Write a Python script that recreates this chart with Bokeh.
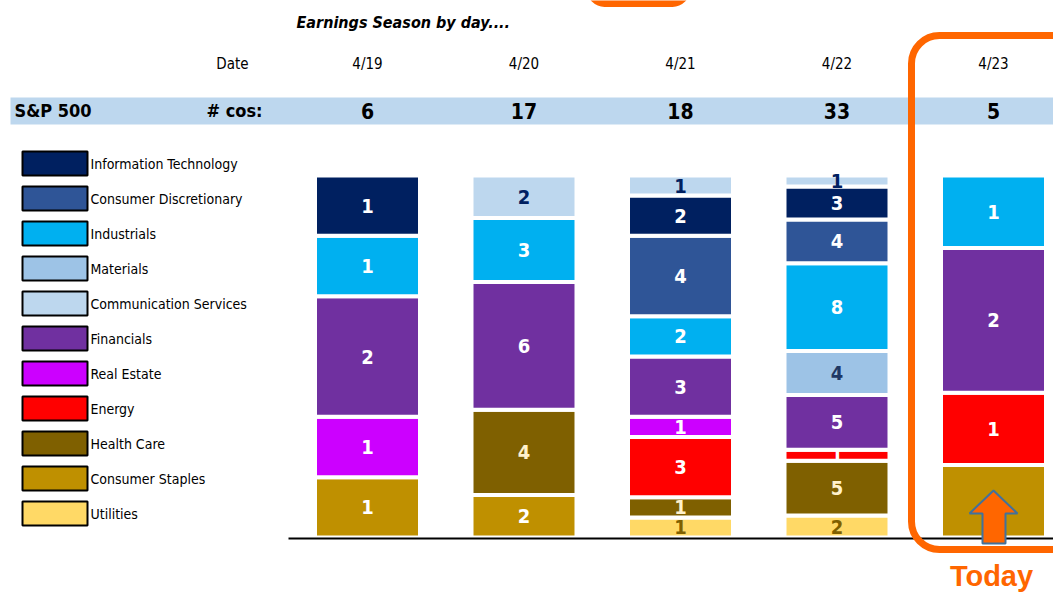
from bokeh.plotting import figure
from bokeh.models import Range1d, Label, ColumnDataSource, BoxAnnotation, PolyAnnotation
from bokeh.embed import file_html
from bokeh.resources import INLINE
from bokeh.core.properties import value

# ---------------- data ----------------
title = "Earnings Season by day...."
dates = ["4/19", "4/20", "4/21", "4/22", "4/23"]
legend_order = ["Information Technology", "Consumer Discretionary", "Industrials", "Materials",
                "Communication Services", "Financials", "Real Estate", "Energy", "Health Care",
                "Consumer Staples", "Utilities"]
stack_order = ["Utilities", "Consumer Staples", "Health Care", "Energy", "Real Estate", "Financials",
               "Materials", "Industrials", "Consumer Discretionary", "Information Technology",
               "Communication Services"]
it_counts = [1, 0, 2, 3, 0]
cd_counts = [0, 0, 4, 4, 0]
ind_counts = [1, 3, 2, 8, 1]
mat_counts = [0, 0, 0, 4, 0]
com_counts = [0, 2, 1, 1, 0]
fin_counts = [2, 6, 3, 5, 2]
re_counts = [1, 0, 1, 0, 0]
en_counts = [0, 0, 3, 1, 1]
hc_counts = [0, 4, 1, 5, 0]
cs_counts = [1, 2, 0, 0, 1]
ut_counts = [0, 0, 1, 2, 0]
counts = {
    "Information Technology": it_counts, "Consumer Discretionary": cd_counts,
    "Industrials": ind_counts, "Materials": mat_counts, "Communication Services": com_counts,
    "Financials": fin_counts, "Real Estate": re_counts, "Energy": en_counts,
    "Health Care": hc_counts, "Consumer Staples": cs_counts, "Utilities": ut_counts,
}
fill_colors = {
    "Information Technology": "#002060", "Consumer Discretionary": "#2f5597",
    "Industrials": "#00b0f0", "Materials": "#9dc3e6", "Communication Services": "#bdd7ee",
    "Financials": "#7030a0", "Real Estate": "#cc00ff", "Energy": "#ff0000",
    "Health Care": "#7f6000", "Consumer Staples": "#bf9000", "Utilities": "#ffd966",
}
label_colors = {
    "Information Technology": "white", "Consumer Discretionary": "white",
    "Industrials": "white", "Materials": "#1f3864", "Communication Services": "#002060",
    "Financials": "white", "Real Estate": "white", "Energy": "white",
    "Health Care": "#fff2cc", "Consumer Staples": "white", "Utilities": "#7f6000",
}
totals = [sum(counts[s][i] for s in legend_order) for i in range(len(dates))]

# ---------------- layout helpers (pixel -> data) ----------------
X0, DX = 367.0, 156.5   # first column centre, column step (px)
Y0, H = 537.0, 362.0    # baseline, full bar height (px)
W, HT = 1053, 593


def X(px):
    return (px - X0) / DX


def Y(py):
    return (Y0 - py) / H


FONT = "DejaVu Sans Condensed"
ORANGE = "#ff6600"

p = figure(width=W, height=HT, x_range=Range1d(X(0), X(W)), y_range=Range1d(Y(HT), Y(0)),
           output_backend="svg", toolbar_location=None, min_border=0,
           x_axis_location=None, y_axis_location=None)
p.grid.visible = False
p.outline_line_color = None
p.background_fill_color = "white"

# ---------------- stacked 100% bars ----------------
xs, tops, bottoms, cols, labs, lcols, mids = [], [], [], [], [], [], []
for i, d in enumerate(dates):
    cum = 0.0
    for s in stack_order:
        c = counts[s][i]
        if c == 0:
            continue
        b = cum / totals[i]
        cum += c
        t = cum / totals[i]
        xs.append(i)
        bottoms.append(b)
        tops.append(t)
        cols.append(fill_colors[s])
        labs.append(str(c))
        lcols.append(label_colors[s])
        mids.append((b + t) / 2)
src = ColumnDataSource(dict(x=xs, top=tops, bottom=bottoms, color=cols, lab=labs, lcol=lcols, mid=mids))
p.vbar(x="x", width=105 / DX, top="top", bottom="bottom", fill_color="color",
       line_color="white", line_width=4, source=src)
p.text(x="x", y="mid", text="lab", text_color="lcol", text_align="center", text_baseline="middle",
       text_font=value(FONT), text_font_style="bold", text_font_size="20px", source=src)

# baseline
p.line([X(288), X(W)], [Y(538), Y(538)], line_color="black", line_width=2)

# ---------------- header ----------------
p.add_layout(Label(x=X(296), y=Y(22), text=title, text_font=FONT, text_font_style="bold italic",
                   text_font_size="16px", text_baseline="middle", text_align="left", text_color="black"))
p.add_layout(Label(x=X(232), y=Y(63), text="Date", text_font=FONT, text_font_size="15px",
                   text_baseline="middle", text_align="center", text_color="black"))
for i, d in enumerate(dates):
    p.add_layout(Label(x=i, y=Y(63), text=d, text_font=FONT, text_font_size="15px",
                       text_baseline="middle", text_align="center", text_color="black"))
p.add_layout(BoxAnnotation(left=X(10), right=X(W + 5), top=Y(97), bottom=Y(124),
                           fill_color="#bdd7ee", fill_alpha=1, line_color=None))
p.add_layout(Label(x=X(14), y=Y(110), text="S&P 500", text_font=FONT, text_font_style="bold",
                   text_font_size="18px", text_baseline="middle", text_align="left", text_color="black"))
p.add_layout(Label(x=X(262), y=Y(110), text="# cos:", text_font=FONT, text_font_style="bold",
                   text_font_size="18px", text_baseline="middle", text_align="right", text_color="black"))
for i, t in enumerate(totals):
    p.add_layout(Label(x=i, y=Y(110), text=str(t), text_font=FONT, text_font_style="bold",
                       text_font_size="21px", text_baseline="middle", text_align="center", text_color="black"))

# ---------------- legend ----------------
for k, s in enumerate(legend_order):
    cy = 163 + 35 * k
    p.add_layout(BoxAnnotation(left=X(22), right=X(87), top=Y(cy - 12), bottom=Y(cy + 12),
                               fill_color=fill_colors[s], fill_alpha=1,
                               line_color="black", line_alpha=1, line_width=2))
    p.add_layout(Label(x=X(90), y=Y(cy), text=s, text_font=FONT, text_font_size="14px",
                       text_baseline="middle", text_align="left", text_color="black"))

# ---------------- "Today" highlight ----------------
p.add_layout(BoxAnnotation(left=X(911), right=X(1100), top=Y(35), bottom=Y(549),
                           fill_alpha=0, line_color=ORANGE, line_alpha=1, line_width=7, border_radius=28))
p.add_layout(BoxAnnotation(left=X(590), right=X(686), top=Y(-40), bottom=Y(3),
                           fill_alpha=0, line_color=ORANGE, line_alpha=1, line_width=7, border_radius=14))
arrow_px = [(993, 490), (1017, 513), (1005, 513), (1005, 543), (982, 543), (982, 513), (969, 513)]
p.add_layout(PolyAnnotation(xs=[X(a) for a, b in arrow_px], ys=[Y(b) for a, b in arrow_px],
                            fill_color=ORANGE, fill_alpha=1, line_color="#41719c", line_alpha=1,
                            line_width=2))
p.add_layout(Label(x=X(991), y=Y(575), text="Today", text_font="Liberation Sans", text_font_style="bold",
                   text_font_size="29px", text_baseline="middle", text_align="center", text_color=ORANGE))

open("out.html", "w").write(file_html(p, INLINE))
